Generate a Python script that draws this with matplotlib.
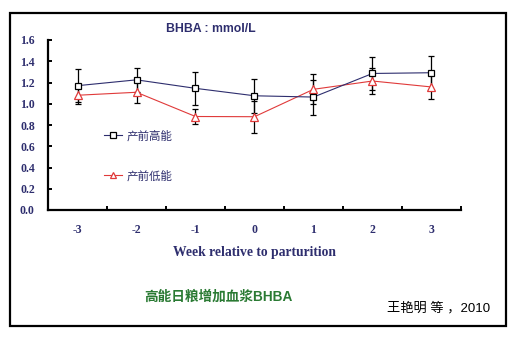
import matplotlib
matplotlib.use("Agg")
import matplotlib.pyplot as plt
from matplotlib.patches import Rectangle

# ── Data ──────────────────────────────────────────────────────────────────────

weeks = ["-3", "-2", "-1", "0", "1", "2", "3"]

high_mean = [1.17, 1.225, 1.145, 1.075, 1.063, 1.285, 1.292]
high_err  = [0.155, 0.115, 0.155, 0.16, 0.165, 0.155, 0.16]

low_mean  = [1.08, 1.108, 0.88, 0.878, 1.136, 1.214, 1.158]
low_err   = [0.08, 0.10, 0.07, 0.15, 0.14, 0.125, 0.11]

y_ticks = [0.0, 0.2, 0.4, 0.6, 0.8, 1.0, 1.2, 1.4, 1.6]

# ── Style ─────────────────────────────────────────────────────────────────────

NAVY  = "#2e2e6e"
RED   = "#e03a3a"
GREEN = "#2a7a33"
CJK   = ["Liberation Sans", "Noto Sans CJK SC", "DejaVu Sans"]
SERIF = ["Liberation Serif", "DejaVu Serif"]

W, H = 517, 337
fig = plt.figure(figsize=(W / 100, H / 100), dpi=100)
fig.patch.set_facecolor("white")

# axes box in pixels: x 48..461, y 40..210 (top-down)
ax = fig.add_axes([48 / W, 1 - 210 / H, (461 - 48) / W, 170 / H])
ax.set_facecolor("white")

x = list(range(len(weeks)))

# error bars first so the markers sit on top
ax.errorbar(x, low_mean, yerr=low_err, fmt="none", ecolor="black",
            elinewidth=0.9, capsize=2.5, capthick=0.9, zorder=2)
ax.errorbar(x, high_mean, yerr=high_err, fmt="none", ecolor="black",
            elinewidth=0.9, capsize=2.5, capthick=0.9, zorder=2)

(low_line,) = ax.plot(x, low_mean, color=RED, linewidth=0.8,
                      marker="^", markersize=5.5, markerfacecolor="white",
                      markeredgecolor=RED, markeredgewidth=0.9, zorder=3)
(high_line,) = ax.plot(x, high_mean, color=NAVY, linewidth=0.8,
                       marker="s", markersize=5, markerfacecolor="white",
                       markeredgecolor="black", markeredgewidth=0.9, zorder=4)

# ── Axes ──────────────────────────────────────────────────────────────────────

ax.set_xlim(-0.5, len(weeks) - 0.5)
ax.set_ylim(0, 1.6)

for side in ("top", "right"):
    ax.spines[side].set_visible(False)
for side in ("left", "bottom"):
    ax.spines[side].set_linewidth(1.6)
    ax.spines[side].set_color("black")

# category boundaries carry the tick marks, centres carry the labels
ax.set_xticks([i - 0.5 for i in range(len(weeks) + 1)])
ax.set_xticklabels([])
ax.set_xticks(x, minor=True)
ax.set_xticklabels(weeks, minor=True, fontfamily=SERIF, fontweight="bold",
                   fontsize=8.5, color=NAVY)
ax.tick_params(axis="x", which="major", direction="in", length=3, width=1.4)
ax.tick_params(axis="x", which="minor", length=0, pad=10)

ax.set_yticks(y_ticks)
ax.set_yticklabels([f"{v:.1f}" for v in y_ticks], fontfamily=SERIF,
                   fontweight="bold", fontsize=8.5, color=NAVY)
ax.tick_params(axis="y", direction="in", length=3, width=1.4, pad=9.5)

ax.set_xlabel("Week relative to parturition", fontfamily=SERIF,
              fontweight="bold", fontsize=9.8, color=NAVY, labelpad=7)

# ── Legend ────────────────────────────────────────────────────────────────────

leg = ax.legend([high_line, low_line], ["产前高能", "产前低能"],
                loc="upper left", bbox_to_anchor=(0.11, 0.53),
                frameon=False, handlelength=1.6, handletextpad=0.35,
                labelspacing=2.45, markerscale=0.8,
                prop={"family": CJK, "size": 8.3})
for txt in leg.get_texts():
    txt.set_color(NAVY)

# ── Texts around the plot ─────────────────────────────────────────────────────

fig.text(166 / W, 1 - 29 / H, "BHBA : mmol/L", family=CJK, fontweight="bold",
         fontsize=8.8, color=NAVY, ha="left", va="center")
fig.text(218 / W, 1 - 297 / H, "高能日粮增加血浆BHBA", family=CJK,
         fontweight="bold", fontsize=9.8, color=GREEN, ha="center", va="center")
fig.text(439 / W, 1 - 308 / H, "王艳明 等 ，2010", family=CJK,
         fontsize=9.5, color="black", ha="center", va="center")

# outer frame
fig.patches.append(Rectangle((10 / W, 1 - 326 / H), 496 / W, 313 / H,
                             transform=fig.transFigure, fill=False,
                             edgecolor="black", linewidth=1.6))

fig.savefig("out.png", dpi=100)
